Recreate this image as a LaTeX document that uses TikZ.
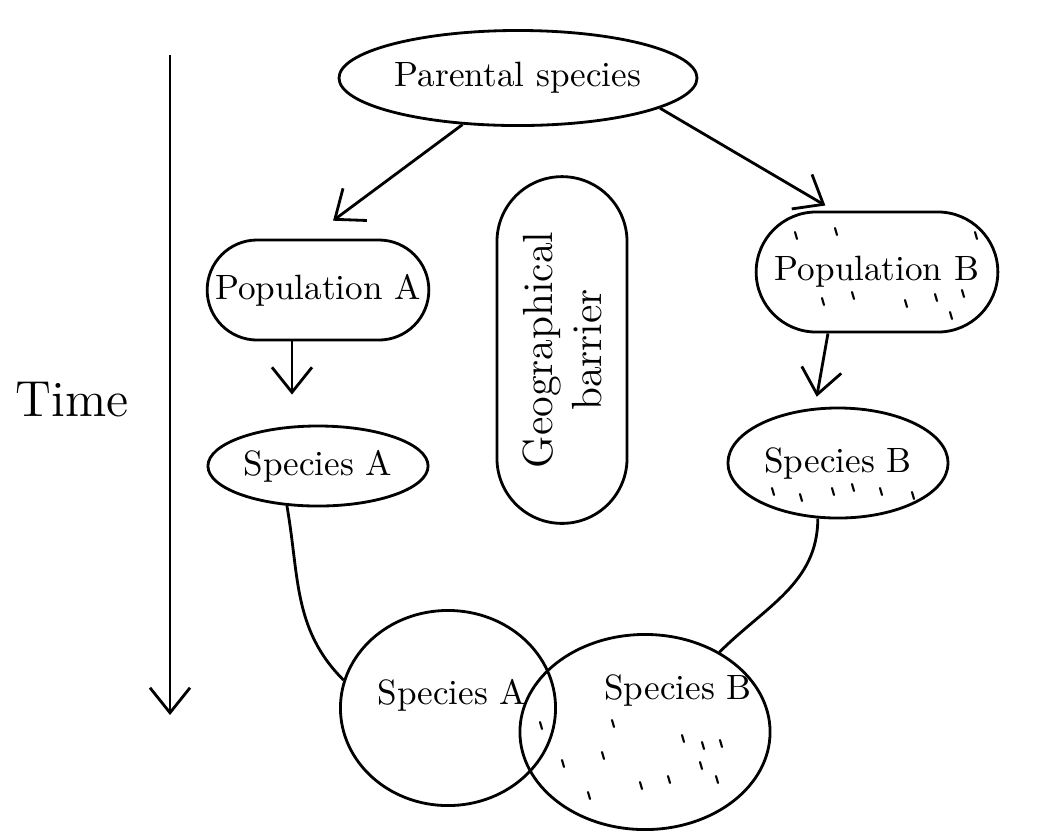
\documentclass[tikz,border=0pt]{standalone}
\usepackage{tikz}
\usetikzlibrary{shapes.geometric, shapes.misc, arrows.meta, positioning}

\begin{document}
\begin{tikzpicture}[x=0.01cm, y=-0.01cm,
            blob/.style={ellipse, draw, thick, align=center, inner sep=1pt},
            pop/.style={rounded rectangle, draw, thick, align=center},
            arrow/.style={-{Straight Barb[length=2.5mm,width=4mm]}, thick},
            link/.style={thick},
            speck/.style={semithick, line cap=round}
        ]

            \useasboundingbox (0,0) rectangle (1051,835);

% Ancestor
            \node[blob, minimum width=3.2cm, minimum height=0.95cm] (parent) at (518,78) {Parental species};

% Split populations
            \node[pop, minimum width=2.45cm, minimum height=1cm] (popA) at (318,290) {Population A};
            \node[pop, minimum width=2.65cm, minimum height=1.2cm] (popB) at (877,272) {Population B};

% Barrier
            \node[rounded rectangle, draw, thick, rotate=90, align=center, font=\large, minimum width=3.7cm, minimum height=1.3cm] (barrier) at (562,350) {Geographical\\barrier};

% New species
            \node[blob, minimum width=2cm, minimum height=0.8cm] (spA) at (318,466) {Species A};
            \node[blob, minimum width=2.2cm, minimum height=1.1cm] (spB) at (838,463) {Species B};

% Later on: ranges overlap
            \node[blob, minimum width=2.15cm, minimum height=1.95cm] (endA) at (448,708) {};
            \node (endAlbl) at (452,695) {Species A};
            \node[blob, minimum width=2.5cm, minimum height=1.95cm] (endB) at (645,732) {};
            \node (endBlbl) at (678,690) {Species B};

% Arrows
            \draw[arrow, shorten >=3mm] (parent.220) -- (popA.100);
            \draw[arrow, shorten >=1mm] (parent.-12) -- (popB.125);
            \draw[arrow, shorten >=3mm] ([xshift=-2.6mm]popA.south) -- ([xshift=-2.6mm]spA.north);
            \draw[arrow, shorten >=1mm] ([xshift=-4.9mm]popB.south) -- ([xshift=-2.3mm]spB.north);

            \draw[link] (spA.232) to[out=-80, in=135] (endA.165);
            \draw[link] (spB.250) to[out=-90, in=45] (endB.47);

% Time axis
            \coordinate (tTop) at (170,55);
            \coordinate (tBot) at (170,715);
            \draw[arrow] (tTop) -- (tBot);
            \node[font=\Large] (time) at (72,400) {Time};

% Specks for population B
            \foreach \x/\y in {795/232, 835/228, 975/232, 822/298, 852/292, 905/300, 935/294, 962/290, 950/312,
                               772/488, 800/494, 832/488, 852/484, 880/488, 912/492,
                               540/722, 562/760, 588/792, 612/720, 602/752, 682/735, 700/762, 702/742, 720/740,
                               640/782, 668/776, 716/776}
                \draw[speck] (\x,\y) -- ++(2,7);

        \end{tikzpicture}
\end{document}
